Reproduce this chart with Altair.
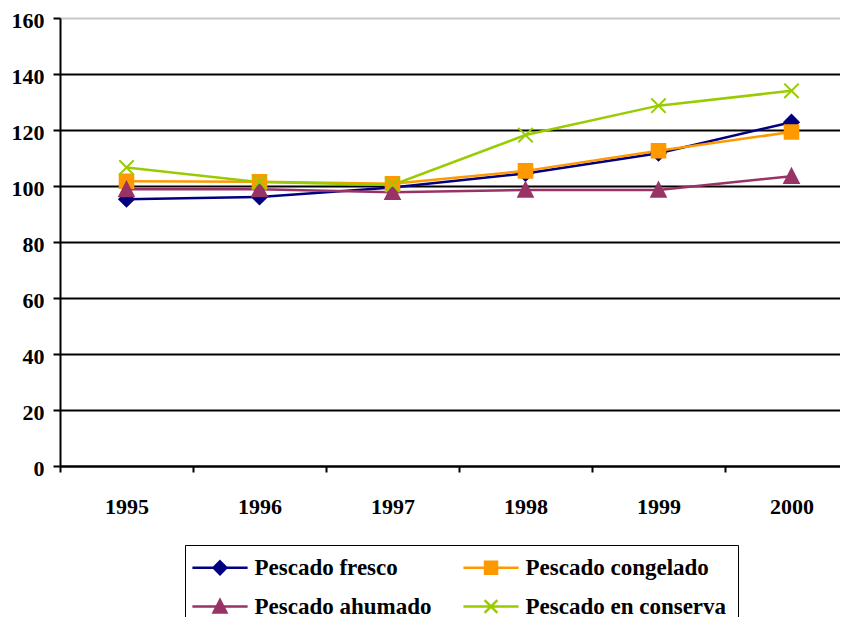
import altair as alt
import pandas as pd

# ---- data ----
years = ["1995", "1996", "1997", "1998", "1999", "2000"]
series = ["Pescado fresco", "Pescado congelado", "Pescado ahumado", "Pescado en conserva"]
fresco = [95.3, 96.1, 99.5, 104.5, 111.7, 122.8]
congelado = [101.7, 101.5, 100.8, 105.4, 112.6, 119.3]
ahumado = [98.8, 98.8, 97.8, 98.6, 98.6, 103.5]
conserva = [106.6, 101.4, 100.4, 118.2, 128.7, 134.0]
y_ticks = [0, 20, 40, 60, 80, 100, 120, 140, 160]

# ---- styles ----
colors = ["#000080", "#FF9900", "#993366", "#99CC00"]
marker_paths = [
    "M0,-0.9L0.9,0L0,0.9L-0.9,0Z",
    "M-0.85,-0.85H0.85V0.85H-0.85Z",
    "M0,-0.9L0.9,0.85L-0.9,0.85Z",
    "M-0.9,-0.9L0.9,0.9M-0.9,0.9L0.9,-0.9",
]
legend_paths = [
    "M-3.45,0H3.45M0,-0.8L0.8,0L0,0.8L-0.8,0Z",
    "M-3.45,0H3.45M-0.75,-0.75H0.75V0.75H-0.75Z",
    "M-3.45,0H3.45M0,-0.8L0.8,0.75L-0.8,0.75Z",
    "M-3.45,0H3.45M-0.8,-0.8L0.8,0.8M-0.8,0.8L0.8,-0.8",
]
FONT = "Liberation Serif"

rows = []
for name, vals in zip(series, [fresco, congelado, ahumado, conserva]):
    for yr, v in zip(years, vals):
        rows.append({"year": yr, "series": name, "value": v})
df = pd.DataFrame(rows)

legend = alt.Legend(
    title=None,
    orient="none",
    direction="horizontal",
    legendX=125,
    legendY=527,
    columns=2,
    symbolSize=256,
    symbolOffset=12.5,
    symbolStrokeWidth=2.5,
    symbolOpacity=1,
    labelOffset=23,
    labelFont=FONT,
    labelFontSize=23,
    labelFontWeight="bold",
    labelColor="black",
    labelLimit=500,
    columnPadding=26,
    rowPadding=15,
    padding=11,
    strokeColor="black",
    fillColor="white",
)

x_enc = alt.X(
    "year:N",
    sort=years,
    scale=alt.Scale(type="band", domain=years, range=[0, 798], paddingInner=0, paddingOuter=0),
    axis=alt.Axis(
        title=None,
        labelAngle=0,
        tickBand="extent",
        grid=False,
        domainColor="black",
        domainWidth=2,
        tickColor="black",
        tickWidth=2,
        tickSize=6,
        labelPadding=24,
        labelFont=FONT,
        labelFontSize=22,
        labelFontWeight="bold",
        labelColor="black",
    ),
)
y_enc = alt.Y(
    "value:Q",
    scale=alt.Scale(domain=[0, 160], nice=False),
    axis=alt.Axis(
        title=None,
        values=y_ticks,
        grid=True,
        gridColor={"condition": {"test": "datum.value >= 160", "value": "#c8c8c8"}, "value": "black"},
        gridWidth=2,
        gridOpacity=1,
        domainColor="black",
        domainWidth=2,
        tickColor="black",
        tickWidth=2,
        tickSize=7,
        labelPadding=9,
        labelOffset=2,
        labelFont=FONT,
        labelFontSize=22,
        labelFontWeight="bold",
        labelColor="black",
    ),
)
color_enc = alt.Color("series:N", sort=series, scale=alt.Scale(domain=series, range=colors), legend=legend)

base = alt.Chart(df).encode(x=x_enc, y=y_enc, color=color_enc)

lines = base.mark_line(strokeWidth=2.5)

point_layers = []
for name, path, col in zip(series, marker_paths, colors):
    point_layers.append(
        base.transform_filter(alt.datum.series == name).mark_point(
            shape=path, filled=True, opacity=1, size=256, stroke=col, strokeWidth=2
        )
    )

# legend carrier: no marks, but shape/stroke scales give the legend its symbols
legend_layer = base.transform_filter("false").mark_point(filled=True, opacity=1, size=256).encode(
    shape=alt.Shape("series:N", sort=series, scale=alt.Scale(domain=series, range=legend_paths), legend=legend),
    stroke=alt.Stroke("series:N", sort=series, scale=alt.Scale(domain=series, range=colors), legend=legend),
)

chart = (
    alt.layer(lines, *point_layers, legend_layer)
    .properties(
        width=780,
        height=448,
        padding={"left": 52, "top": 10, "right": 0, "bottom": 151},
        autosize=alt.AutoSizeParams(type="none"),
        background="white",
    )
    .configure_view(stroke=None)
)

chart.save("out.html", embed_options={"renderer": "svg", "actions": False})
